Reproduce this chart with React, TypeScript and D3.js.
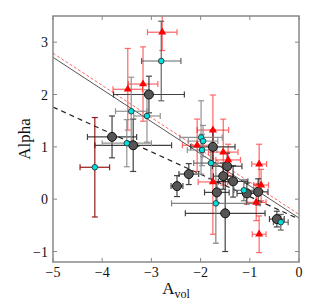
import React from 'react';
import * as d3 from 'd3';

// gray circles: [A_vol, alpha, xerr, yerr]
const grayPts = [
  [-3.05, 2.0, 0.72, 0.35], [-3.8, 1.19, 0.5, 0.4], [-3.37, 1.03, 0.78, 0.5],
  [-2.48, 0.25, 0.12, 0.2], [-2.24, 0.48, 0.2, 0.2], [-1.75, 1.0, 0.45, 0.3],
  [-1.46, 0.63, 0.3, 0.25], [-1.54, 0.44, 0.2, 0.25], [-1.34, 0.34, 0.3, 0.3],
  [-1.67, 0.13, 0.25, 0.2], [-1.5, -0.27, 0.81, 0.73], [-1.06, 0.11, 0.2, 0.2],
  [-0.83, 0.14, 0.2, 0.25], [-0.45, -0.38, 0.15, 0.15],
];
// cyan points: [A_vol, alpha, xerr, yerr]
const cyanPts = [
  [-2.8, 2.64, 0.4, 0.76], [-3.41, 1.68, 0.32, 0.65], [-3.09, 1.59, 0.27, 0.5],
  [-3.5, 1.07, 0.5, 0.45], [-4.15, 0.61, 0.3, 0.95], [-1.99, 1.18, 0.43, 0.7],
  [-1.95, 1.11, 0.3, 0.3], [-1.97, 0.94, 0.3, 0.3], [-1.79, 0.69, 0.35, 0.3],
  [-1.69, -0.08, 0.9, 0.76], [-1.12, 0.17, 0.2, 0.2], [-0.37, -0.44, 0.15, 0.15],
];
const cyanBarColor = ['#555', '#888', '#888', '#888', '#8b0000', '#888', '#888', '#888', '#666', '#777', '#666', '#555'];
// red triangles: [A_vol, alpha, xerr, yerr]
const redPts = [
  [-2.78, 3.19, 0.3, 0.35], [-3.48, 2.1, 0.3, 0.78], [-3.17, 2.2, 0.3, 0.71],
  [-1.75, 1.32, 0.32, 0.67], [-2.07, 1.03, 0.3, 0.5], [-1.54, 0.9, 0.3, 0.63],
  [-1.44, 0.75, 0.25, 0.3], [-1.75, 0.33, 0.3, 1.0], [-0.81, 0.67, 0.15, 0.38],
  [-0.77, 0.27, 0.15, 0.3], [-0.87, -0.06, 0.2, 0.35], [-0.81, -0.67, 0.14, 0.35],
];
// fit lines: endpoints at A_vol = -5 and 0
const fitX = [-5, 0];
const fitSolid = [2.71, -0.36];
const fitRed = [2.79, -0.29];
const fitBlack = [1.76, -0.38];

const xTicks = [-5, -4, -3, -2, -1, 0];
const yTicks = [-1, 0, 1, 2, 3];

const W = 327, H = 306;
const m = { left: 53, right: 28, top: 16, bottom: 44 };

export default function App() {
  const x = d3.scaleLinear().domain([-5, 0]).range([m.left, W - m.right]);
  const y = d3.scaleLinear().domain([-1.2, 3.5]).range([H - m.bottom, m.top]);
  const line = d3.line<number>().x((_, i) => x(fitX[i])).y(d => y(d));
  const fmt = (v: number) => (v < 0 ? '\u2212' + Math.abs(v) : String(v));
  const cap = 3;

  const errBar = (p: number[], color: string, op: number, key: string) => {
    const [a, b, xe, ye] = p;
    return (
      <g key={key} stroke={color} strokeWidth={1.2} opacity={op}>
        <line x1={x(a - xe)} x2={x(a + xe)} y1={y(b)} y2={y(b)} />
        <line x1={x(a - xe)} x2={x(a - xe)} y1={y(b) - cap} y2={y(b) + cap} />
        <line x1={x(a + xe)} x2={x(a + xe)} y1={y(b) - cap} y2={y(b) + cap} />
        <line x1={x(a)} x2={x(a)} y1={y(b - ye)} y2={y(b + ye)} />
        <line x1={x(a) - cap} x2={x(a) + cap} y1={y(b - ye)} y2={y(b - ye)} />
        <line x1={x(a) - cap} x2={x(a) + cap} y1={y(b + ye)} y2={y(b + ye)} />
      </g>
    );
  };
  const tri = d3.symbol().type(d3.symbolTriangle).size(28)();

  return (
    <svg width={W} height={H} style={{ position: 'absolute', left: 0, top: 0 }}
      fontFamily="'Liberation Serif', 'DejaVu Serif', serif">
      <defs>
        <clipPath id="plot">
          <rect x={m.left} y={m.top} width={W - m.left - m.right} height={H - m.top - m.bottom} />
        </clipPath>
      </defs>
      <g clipPath="url(#plot)">
        <path d={line(fitSolid) || ''} fill="none" stroke="#555" strokeWidth={1} />
        <path d={line(fitRed) || ''} fill="none" stroke="#f66" strokeWidth={1} strokeDasharray="3,2" />
        <path d={line(fitBlack) || ''} fill="none" stroke="#222" strokeWidth={1.2} strokeDasharray="5,4" />
        {redPts.map((p, i) => errBar(p, '#f00', 0.6, 'rb' + i))}
        {grayPts.map((p, i) => errBar(p, '#222', 0.85, 'gb' + i))}
        {cyanPts.map((p, i) => errBar(p, cyanBarColor[i], 0.9, 'cb' + i))}
        {grayPts.map((p, i) => (
          <circle key={'g' + i} cx={x(p[0])} cy={y(p[1])} r={4.5} fill="#555" stroke="#111" strokeWidth={1} />
        ))}
        {redPts.map((p, i) => (
          <path key={'r' + i} d={tri || ''} transform={`translate(${x(p[0])},${y(p[1])})`} fill="#f00" />
        ))}
        {cyanPts.map((p, i) => (
          <circle key={'c' + i} cx={x(p[0])} cy={y(p[1])} r={2.8} fill="#00e0e0" stroke="#222" strokeWidth={0.8} />
        ))}
      </g>
      {/* frame and ticks */}
      <rect x={m.left} y={m.top} width={W - m.left - m.right} height={H - m.top - m.bottom}
        fill="none" stroke="#888" strokeWidth={1.5} />
      {xTicks.map(t => (
        <g key={'xt' + t} stroke="#888" strokeWidth={1}>
          <line x1={x(t)} x2={x(t)} y1={H - m.bottom} y2={H - m.bottom - 4} />
          <line x1={x(t)} x2={x(t)} y1={m.top} y2={m.top + 4} />
        </g>
      ))}
      {yTicks.map(t => (
        <g key={'yt' + t} stroke="#888" strokeWidth={1}>
          <line x1={m.left} x2={m.left + 4} y1={y(t)} y2={y(t)} />
          <line x1={W - m.right} x2={W - m.right - 4} y1={y(t)} y2={y(t)} />
        </g>
      ))}
      {xTicks.map(t => (
        <text key={'xl' + t} x={x(t)} y={H - m.bottom + 15} textAnchor="middle" fontSize={14} fill="#111">{fmt(t)}</text>
      ))}
      {yTicks.map(t => (
        <text key={'yl' + t} x={m.left - 5} y={y(t) + 5} textAnchor="end" fontSize={14} fill="#111">{fmt(t)}</text>
      ))}
      <text x={(m.left + W - m.right) / 2} y={H - 12} textAnchor="middle" fontSize={17} fill="#111">
        A<tspan fontSize={12} dy={4}>vol</tspan>
      </text>
      <text transform={`translate(30,${(m.top + H - m.bottom) / 2}) rotate(-90)`} textAnchor="middle" fontSize={17} fill="#111">Alpha</text>
    </svg>
  );
}
